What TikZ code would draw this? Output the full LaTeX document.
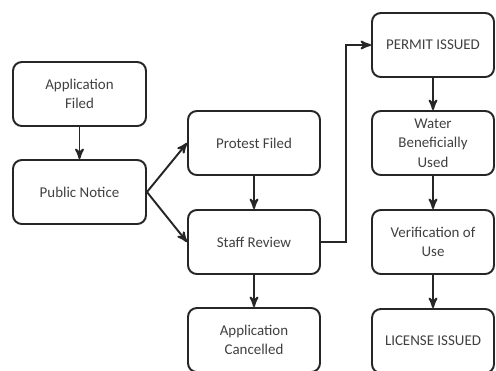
\documentclass[tikz,border=0pt]{standalone}
\usepackage{fontspec}
\setmainfont{Carlito}
\usetikzlibrary{positioning,arrows}
\tikzset{
  block/.style={align=center,rectangle,draw=black!85,line width=1.1pt,rounded corners=5pt,
    minimum height=1.28cm,text=black!75,font=\fontsize{8.5}{11}\selectfont},
  leftbox/.style={block,minimum width=2.66cm},
  midbox/.style={block,minimum width=2.64cm},
  rightbox/.style={block,minimum width=2.44cm},
  link/.style={->,line width=1.1pt,draw=black!85}
}
\begin{document}
\begin{tikzpicture}[x=0.02cm,y=-0.02cm,>=stealth']
    \path[use as bounding box,fill=white] (0,0) rectangle (496,370);
    \node at (79.5, 94) [leftbox] (filed) {Application\\Filed};
    \node at (79.5, 192) [leftbox] (notice) {Public Notice};
    \node at (254, 143) [midbox] (protest) {Protest Filed};
    \node at (254, 242) [midbox] (review) {Staff Review};
    \node at (254, 340) [midbox] (cancel) {Application\\Cancelled};
    \node at (433, 45) [rightbox] (permit) {PERMIT ISSUED};
    \node at (433, 143) [rightbox] (water) {Water\\Beneficially\\Used};
    \node at (433, 242) [rightbox] (verify) {Verification of\\Use};
    \node at (433, 341) [rightbox] (license) {LICENSE ISSUED};
    \coordinate (bend) at (346, 242);

    \draw[link] (filed) -- (notice);
    \draw[link] (notice.east) -- (protest.west);
    \draw[link] (notice.east) -- (review.west);
    \draw[link] (protest) -- (review);
    \draw[link] (review) -- (cancel);
    \draw[link] (review.east) -- (bend) |- (permit.west);
    \draw[link] (permit) -- (water);
    \draw[link] (water) -- (verify);
    \draw[link] (verify) -- (license);
\end{tikzpicture}
\end{document}
